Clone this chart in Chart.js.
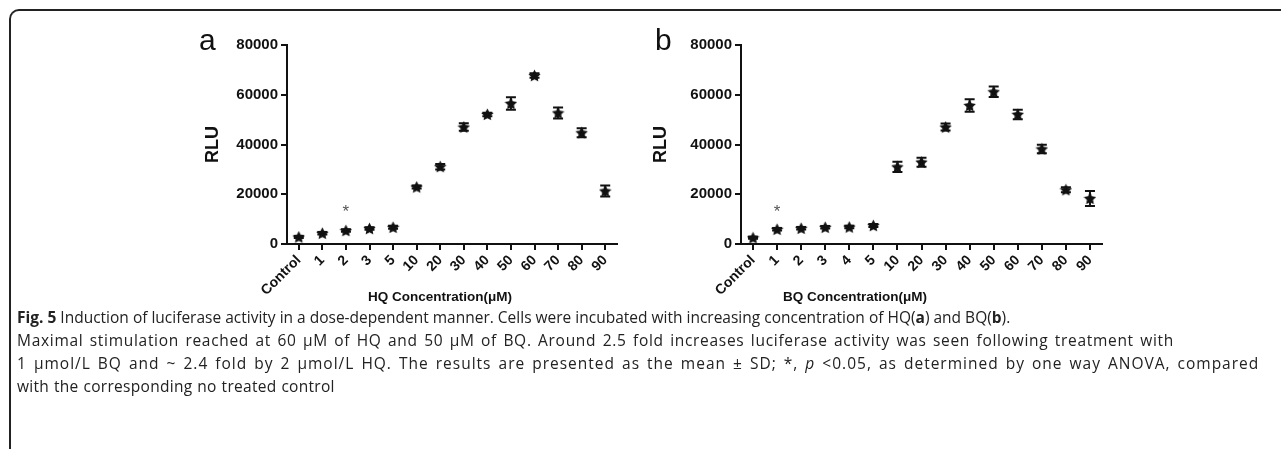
<!DOCTYPE html>
<html>
<head>
<meta charset="utf-8">
<script src="https://cdn.jsdelivr.net/npm/chart.js@4.4.1/dist/chart.umd.min.js"></script>
<style>
    body { margin: 0; width: 1281px; height: 449px; overflow: hidden; background: #fff; position: relative; }
    .frame { position: absolute; left: 9px; top: 9px; width: 1300px; height: 480px;
             border-top: 2px solid #222; border-left: 2px solid #222; border-top-left-radius: 10px; }
    .panel { position: absolute; top: 15px; height: 300px; }
    .panel-label { position: absolute; top: 25px; font: 30px "Liberation Sans", Arial, sans-serif; line-height: 30px; color: #111; }
    .caption { position: absolute; left: 17px; top: 306px; font: 15.5px "Open Sans", sans-serif; line-height: 23px;
               color: #222; white-space: nowrap; }
    .caption span { display: block; }
</style>
</head>
<body>
<div class="frame"></div>
<div class="panel" style="left:180px;width:450px"><canvas id="chartA"></canvas></div>
<div class="panel" style="left:630px;width:490px"><canvas id="chartB"></canvas></div>
<div class="panel-label" style="left:199px">a</div>
<div class="panel-label" style="left:655px">b</div>
<div class="caption">
<span><b>Fig. 5</b> Induction of luciferase activity in a dose-dependent manner. Cells were incubated with increasing concentration of HQ(<b>a</b>) and BQ(<b>b</b>).</span>
<span style="letter-spacing:0.7px;word-spacing:1.7px">Maximal stimulation reached at 60 μM of HQ and 50 μM of BQ. Around 2.5 fold increases luciferase activity was seen following treatment with</span>
<span style="letter-spacing:1px;word-spacing:2px">1 μmol/L BQ and ~ 2.4 fold by 2 μmol/L HQ. The results are presented as the mean ± SD; *, <i>p</i> &lt;0.05, as determined by one way ANOVA, compared</span>
<span style="letter-spacing:0.3px;word-spacing:0.5px">with the corresponding no treated control</span>
</div>

<script>
// --- Data ---
const HQ_LABELS = ['Control', '1', '2', '3', '5', '10', '20', '30', '40', '50', '60', '70', '80', '90'];
const HQ_MEAN = [2800, 4300, 5400, 6200, 6700, 22900, 31100, 47000, 52100, 56500, 67700, 52700, 44700, 21300];
const HQ_SD = [400, 500, 500, 500, 600, 600, 1100, 1500, 700, 2500, 900, 2200, 1800, 2200];
const HQ_SIG = ['2']; // categories marked with *

const BQ_LABELS = ['Control', '1', '2', '3', '4', '5', '10', '20', '30', '40', '50', '60', '70', '80', '90'];
const BQ_MEAN = [2500, 5900, 6300, 6700, 6800, 7400, 31000, 32900, 47000, 55700, 61200, 52100, 38200, 21800, 18300];
const BQ_SD = [400, 500, 500, 500, 500, 600, 2100, 1800, 1400, 2500, 2100, 1900, 1700, 1000, 3000];
const BQ_SIG = ['1'];

const SIG_LEVEL = 13800; // height of the * mark
const Y_TICKS = [0, 20000, 40000, 60000, 80000];

const INK = '#111';
const FONT = '"Liberation Sans", Arial, sans-serif';

// Filled star used as the point marker
function makeStar(size) {
    const c = document.createElement('canvas');
    c.width = size; c.height = size;
    const g = c.getContext('2d');
    const r = size / 2, ri = r * 0.5;
    g.beginPath();
    for (let i = 0; i < 10; i++) {
        const a = -Math.PI / 2 + i * Math.PI / 5;
        const rr = i % 2 ? ri : r;
        g.lineTo(r + rr * Math.cos(a), r + 0.5 + rr * Math.sin(a));
    }
    g.closePath();
    g.fillStyle = INK;
    g.fill();
    return c;
}
const STAR = makeStar(13);

// Error bars, * marks and the x title
const extrasPlugin = {
    id: 'extras',
    afterDatasetsDraw(chart, args, opts) {
        const ctx = chart.ctx;
        const y = chart.scales.y;
        const meta = chart.getDatasetMeta(0);
        const ds = chart.data.datasets[0];
        ctx.save();
        ctx.strokeStyle = INK;
        ctx.lineWidth = 2;
        meta.data.forEach((pt, i) => {
            const top = y.getPixelForValue(ds.data[i] + ds.sd[i]);
            const bot = y.getPixelForValue(ds.data[i] - ds.sd[i]);
            ctx.beginPath();
            ctx.moveTo(pt.x, top); ctx.lineTo(pt.x, bot);
            ctx.moveTo(pt.x - 5, top); ctx.lineTo(pt.x + 5, top);
            ctx.moveTo(pt.x - 5, bot); ctx.lineTo(pt.x + 5, bot);
            ctx.stroke();
        });
        // significance marks
        ctx.fillStyle = '#555';
        ctx.font = '17px ' + FONT;
        ctx.textAlign = 'center';
        ctx.textBaseline = 'middle';
        opts.sig.forEach(lab => {
            const x = chart.scales.x.getPixelForValue(chart.data.labels.indexOf(lab));
            ctx.fillText('*', x, y.getPixelForValue(SIG_LEVEL) + 3);
        });
        // x axis title
        ctx.fillStyle = INK;
        ctx.font = 'bold 13.5px ' + FONT;
        ctx.fillText(opts.title, opts.titleX, opts.titleY);
        ctx.restore();
    }
};

function buildChart(id, labels, mean, sd, sig, title, layout) {
    const ctx = document.getElementById(id).getContext('2d');
    return new Chart(ctx, {
        type: 'line',
        data: {
            labels: labels,
            datasets: [{
                data: mean,
                sd: sd,
                showLine: false,
                pointStyle: STAR,
                pointRadius: 6,
                pointHoverRadius: 6
            }]
        },
        plugins: [extrasPlugin],
        options: {
            responsive: true,
            maintainAspectRatio: false,
            animation: false,
            events: [],
            layout: { padding: { left: layout.padLeft, right: layout.padRight, top: 30, bottom: 0 } },
            plugins: {
                legend: { display: false },
                tooltip: { enabled: false },
                extras: { sig: sig, title: title, titleX: layout.titleX, titleY: 282 }
            },
            scales: {
                x: {
                    offset: true,
                    afterFit: s => { s.height = 71; },
                    grid: { drawOnChartArea: false, drawTicks: true, tickLength: 6, color: INK, lineWidth: 2 },
                    border: { display: true, color: INK, width: 2 },
                    ticks: {
                        autoSkip: false, minRotation: 45, maxRotation: 45, padding: 2,
                        color: INK, font: { family: FONT, size: 14, weight: 'bold' }
                    }
                },
                y: {
                    min: 0, max: 80000,
                    afterFit: s => { s.width = layout.yWidth; },
                    afterBuildTicks: s => { s.ticks = Y_TICKS.map(v => ({ value: v })); },
                    grid: { drawOnChartArea: false, drawTicks: true, tickLength: 6, color: INK, lineWidth: 2 },
                    border: { display: true, color: INK, width: 2 },
                    ticks: {
                        padding: 3, color: INK,
                        callback: v => String(v),
                        font: { family: FONT, size: 15, weight: 'bold' }
                    },
                    title: {
                        display: true, text: 'RLU', color: INK,
                        font: { family: FONT, size: 18, weight: 'bold' }
                    }
                }
            }
        }
    });
}

document.addEventListener('DOMContentLoaded', () => {
    buildChart('chartA', HQ_LABELS, HQ_MEAN, HQ_SD, HQ_SIG, 'HQ Concentration(μM)',
        { padLeft: 18, padRight: 13, yWidth: 89, titleX: 260 });
    buildChart('chartB', BQ_LABELS, BQ_MEAN, BQ_SD, BQ_SIG, 'BQ Concentration(μM)',
        { padLeft: 16, padRight: 18, yWidth: 95, titleX: 225 });
});
</script>
</body>
</html>
